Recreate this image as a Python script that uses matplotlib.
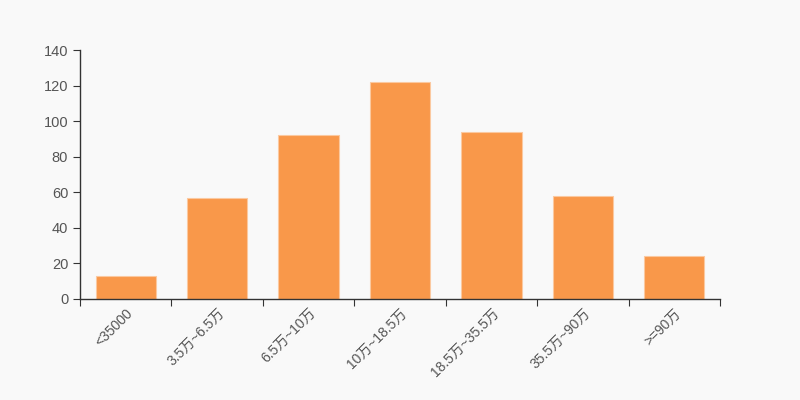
import matplotlib
matplotlib.use('Agg')
from matplotlib import pyplot as plt
import numpy as np

categories = ['<35000', '3.5万~6.5万', '6.5万~10万', '10万~18.5万', '18.5万~35.5万', '35.5万~90万', '>=90万']
counts = [13, 57, 92, 122, 94, 58, 24]
yticks = [0, 20, 40, 60, 80, 100, 120, 140]

plt.rcParams['font.family'] = ['Liberation Sans', 'Noto Sans CJK SC', 'DejaVu Sans']

fig = plt.figure(figsize=(8, 4), dpi=100, facecolor='#f9f9f9')
ax = fig.add_axes([0.1, 0.2525, 0.8, 0.6225])
ax.set_facecolor('#f9f9f9')

x = np.arange(len(categories))
ax.bar(x, counts, width=0.66, color='#f9984a', edgecolor='#fbc9a0', linewidth=0.8)

ax.set_xlim(-0.5, len(categories) - 0.5)
ax.set_ylim(0, 140)
ax.set_yticks(yticks)
ax.set_yticklabels([str(v) for v in yticks])

# boundary ticks between categories, labels at centres
ax.set_xticks(np.arange(len(categories) + 1) - 0.5)
ax.set_xticklabels([''] * (len(categories) + 1))
ax.set_xticks(x, minor=True)
ax.set_xticklabels(categories, minor=True, rotation=45, ha='right', va='top',
                   rotation_mode='anchor')

for s in ['top', 'right']:
    ax.spines[s].set_visible(False)
for s in ['left', 'bottom']:
    ax.spines[s].set_color('#333333')
    ax.spines[s].set_linewidth(1)

ax.tick_params(axis='both', which='major', direction='out', length=5, color='#333333',
               labelcolor='#555555', labelsize=10.5)
ax.tick_params(axis='x', which='minor', length=0, labelcolor='#555555', labelsize=10, pad=5)

fig.savefig('out.png', dpi=100, facecolor='#f9f9f9')
